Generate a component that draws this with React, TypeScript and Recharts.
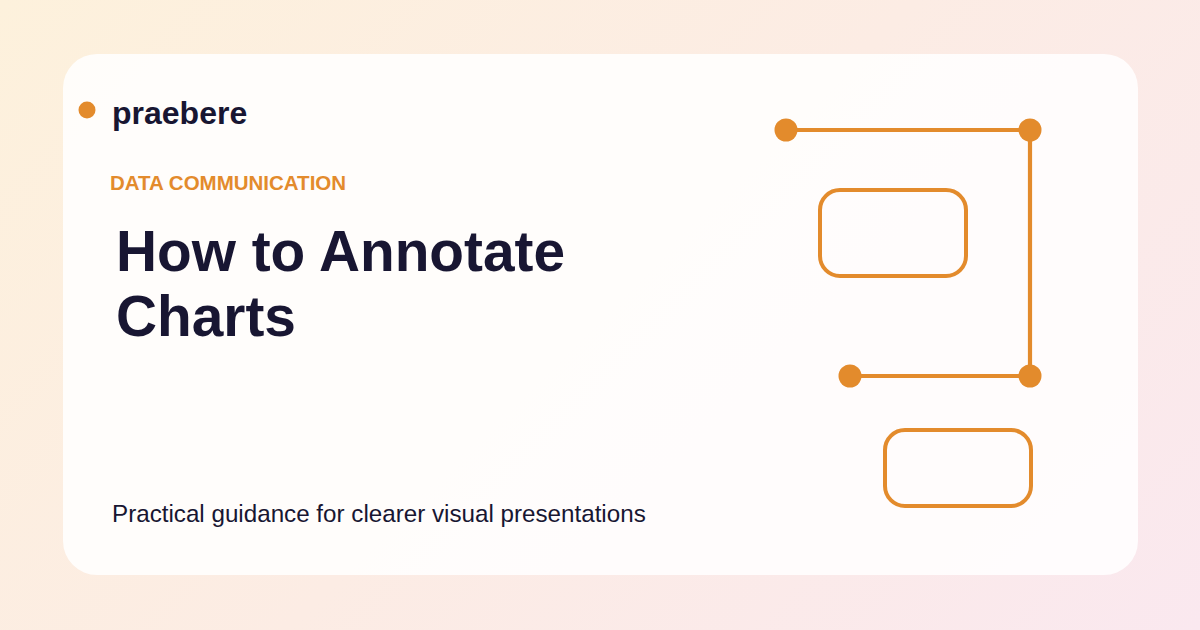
import React from "react";
import { ComposedChart, Line, XAxis, YAxis, ReferenceArea } from "recharts";

// Connector path (chart coordinate space 0..1200 x 0..630)
const connectorX = [786, 1030, 1030, 850];
const connectorY = [130, 130, 376, 376];

// Annotation boxes
const boxX1 = [820, 885];
const boxX2 = [966, 1031];
const boxY1 = [190, 430];
const boxY2 = [276, 506];

const brand = "praebere";
const kicker = "DATA COMMUNICATION";
const titleLines = ["How to Annotate", "Charts"];
const subtitle = "Practical guidance for clearer visual presentations";

const ORANGE = "#e38b2c";
const NAVY = "#181632";
const FONT = "'Liberation Sans', Arial, Helvetica, sans-serif";

const connectorData = connectorX.map((x, i) => ({ x, y: connectorY[i] }));

export default function App() {
  return (
    <div
      style={{
        position: "absolute",
        left: 0,
        top: 0,
        width: 1200,
        height: 630,
        overflow: "hidden",
        background: "linear-gradient(135deg, #fdf1dc 0%, #fcece4 50%, #fae8ef 100%)",
        fontFamily: FONT,
      }}
    >
      <div
        style={{
          position: "absolute",
          left: 63,
          top: 54,
          width: 1075,
          height: 521,
          borderRadius: 34,
          background: "rgba(255,255,255,0.86)",
        }}
      />
      <svg
        width={1200}
        height={630}
        style={{ position: "absolute", left: 0, top: 0 }}
      >
        <circle cx={87} cy={110} r={8.5} fill={ORANGE} />
        <text x={112} y={124} fontFamily={FONT} fontWeight={700} fontSize={32} fill={NAVY}>
          {brand}
        </text>
        <text x={110} y={190} fontFamily={FONT} fontWeight={700} fontSize={20.5} fill={ORANGE}>
          {kicker}
        </text>
        <text x={116} y={271} fontFamily={FONT} fontWeight={700} fontSize={56.8} fill={NAVY}>
          {titleLines[0]}
        </text>
        <text x={116} y={336} fontFamily={FONT} fontWeight={700} fontSize={56.8} fill={NAVY}>
          {titleLines[1]}
        </text>
        <text x={112} y={522} fontFamily={FONT} fontWeight={400} fontSize={24.2} fill={NAVY}>
          {subtitle}
        </text>
      </svg>
      <div style={{ position: "absolute", left: 0, top: 0 }}>
        <ComposedChart
          width={1200}
          height={630}
          data={connectorData}
          margin={{ top: 0, right: 0, bottom: 0, left: 0 }}
        >
          <XAxis type="number" dataKey="x" domain={[0, 1200]} hide allowDataOverflow />
          <YAxis type="number" dataKey="y" domain={[0, 630]} reversed hide allowDataOverflow />
          {boxX1.map((x1, i) => (
            <ReferenceArea
              key={i}
              x1={x1}
              x2={boxX2[i]}
              y1={boxY1[i]}
              y2={boxY2[i]}
              fill="none"
              fillOpacity={0}
              stroke={ORANGE}
              strokeWidth={4}
              radius={20}
              ifOverflow="visible"
            />
          ))}
          <Line
            type="linear"
            dataKey="y"
            stroke={ORANGE}
            strokeWidth={4.2}
            dot={{ r: 11.5, fill: ORANGE, stroke: "none" }}
            activeDot={false}
            isAnimationActive={false}
          />
        </ComposedChart>
      </div>
    </div>
  );
}
